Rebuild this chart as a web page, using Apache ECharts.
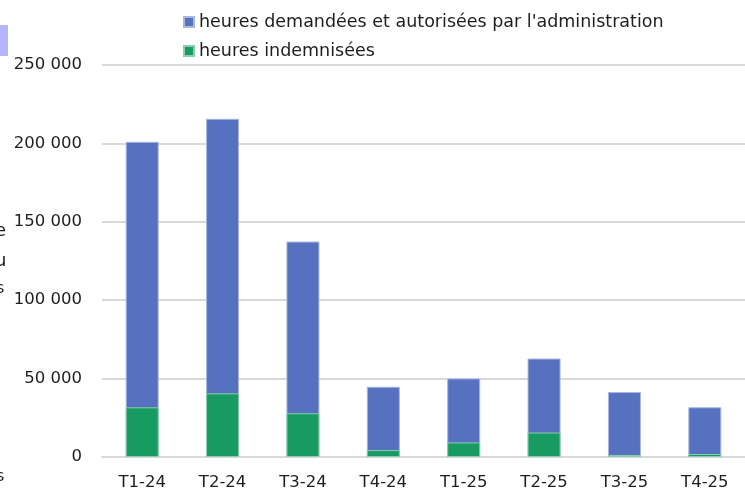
<!DOCTYPE html>
<html><head><meta charset="utf-8">
<script src="https://cdn.jsdelivr.net/npm/echarts@6/dist/echarts.min.js"></script>
<style>html,body{margin:0;padding:0;background:#fff}#c{width:745px;height:491px}</style>
</head><body><div id="c"></div>
<script>
const categories = ['T1-24','T2-24','T3-24','T4-24','T1-25','T2-25','T3-25','T4-25'];
const heuresAutorisees = [201000, 215700, 137400, 44800, 50100, 62800, 41400, 31700];
const heuresIndemnisees = [31700, 40600, 27900, 4400, 9300, 15600, 1300, 1900];
const yTicks = [0, 50000, 100000, 150000, 200000, 250000];
const seriesNames = ["heures demandées et autorisées par l'administration", 'heures indemnisées'];

const font = '"DejaVu Sans", sans-serif';
const chart = echarts.init(document.getElementById('c'));
chart.setOption({
  animation: false,
  legend: {
    orient: 'vertical', left: 178, top: 8, itemGap: 11,
    itemWidth: 10, itemHeight: 10, icon: 'rect',
    textStyle: {fontFamily: font, fontSize: 17.5, color: '#1e1e1e'},
    data: seriesNames
  },
  grid: {left: 102, top: 65, width: 656, height: 393},
  xAxis: {
    type: 'category', data: categories,
    axisLine: {lineStyle: {color: '#d9d9d9', width: 2}},
    axisTick: {show: false},
    axisLabel: {fontFamily: font, fontSize: 16.5, color: '#1e1e1e', margin: 17}
  },
  yAxis: {
    type: 'value', min: yTicks[0], max: yTicks[yTicks.length-1], interval: 50000,
    axisLine: {show: false}, axisTick: {show: false},
    splitLine: {lineStyle: {color: '#d9d9d9', width: 2}},
    axisLabel: {fontFamily: font, fontSize: 16.5, color: '#1e1e1e', margin: 20,
      formatter: v => String(v).replace(/\B(?=(\d{3})+(?!\d))/g, ' ')}
  },
  series: [
    {name: seriesNames[0], type: 'bar', data: heuresAutorisees, barWidth: 33, barGap: '-100%',
     itemStyle: {color: '#5571BF', borderColor: '#a9b6de', borderWidth: 1}},
    {name: seriesNames[1], type: 'bar', data: heuresIndemnisees, barWidth: 33,
     itemStyle: {color: '#189B62', borderColor: '#8ccdb0', borderWidth: 1}}
  ],
  graphic: [
    {type: 'rect', left: 0, top: 25, shape: {x: 0, y: 0, width: 8, height: 31}, style: {fill: '#b5b5ff'}},
    {type: 'text', x: -5, y: 222, style: {text: 'e', font: '18px ' + font, fill: '#1e1e1e'}},
    {type: 'text', x: -5, y: 252, style: {text: 'u', font: '18px ' + font, fill: '#1e1e1e'}},
    {type: 'text', x: -4, y: 281, style: {text: 's', font: '16px ' + font, fill: '#1e1e1e'}},
    {type: 'text', x: -4, y: 469, style: {text: 's', font: '16px ' + font, fill: '#1e1e1e'}}
  ]
});
</script></body></html>
